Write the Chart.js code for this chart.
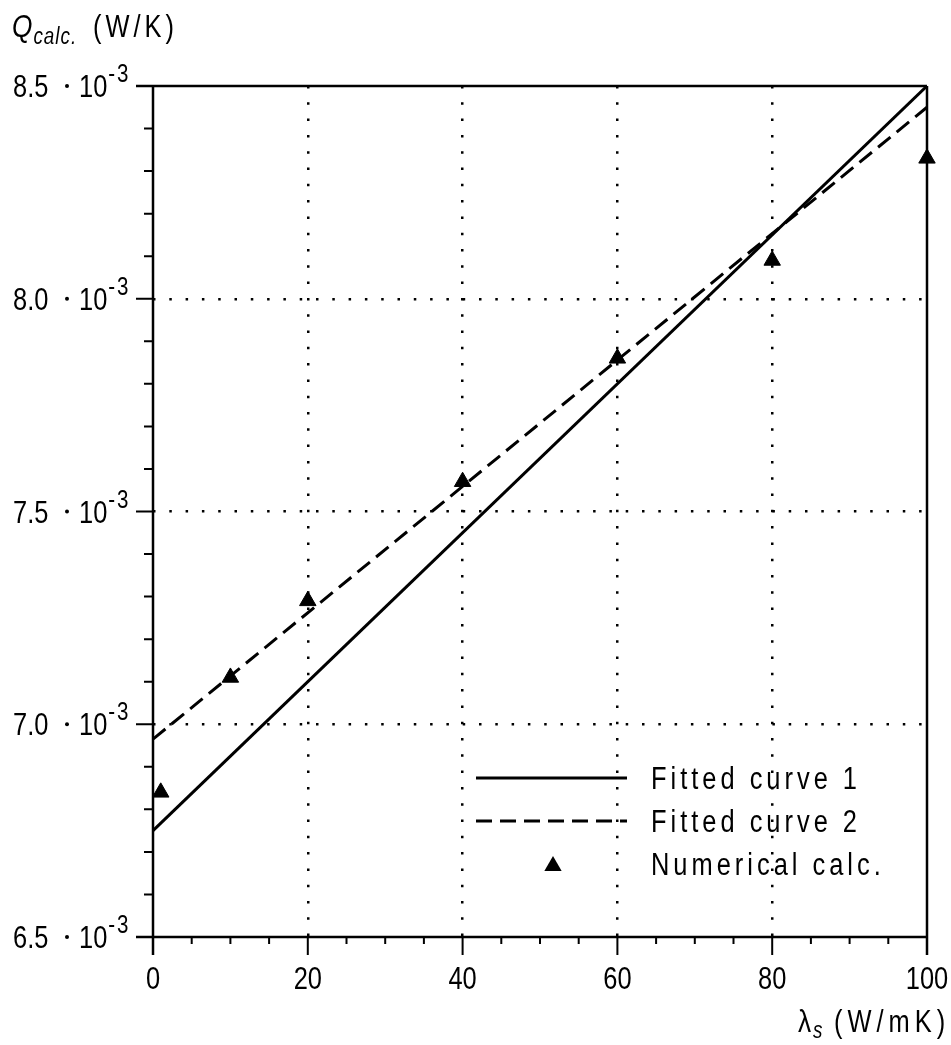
<!DOCTYPE html>
<html lang="en">
<head>
  <meta charset="UTF-8">
  <title>Q calc. vs lambda s</title>
  <script src="https://cdn.jsdelivr.net/npm/chart.js"></script>
  <style>
    body {
      margin: 0;
      padding: 0;
      background: #fff;
    }
    .wrap {
      width: 951px;
      height: 1045px;
      position: relative;
    }
  </style>
</head>
<body>
  <div class="wrap">
    <canvas id="chart"></canvas>
  </div>

  <script>
    // data (Q in W/K, lambda in W/mK)
    const lambdaFit = [0, 100];
    const fitCurve1 = [6.75e-3, 8.50e-3];
    const fitCurve2 = [6.965e-3, 8.45e-3];

    const lambdaCalc = [1, 10, 20, 40, 60, 80, 100];
    const qCalc = [6.84e-3, 7.11e-3, 7.29e-3, 7.57e-3, 7.86e-3, 8.09e-3, 8.33e-3];

    const xTicks = [0, 20, 40, 60, 80, 100];
    const yTicks = [6.5e-3, 7.0e-3, 7.5e-3, 8.0e-3, 8.5e-3];
    const legendLabels = ['Fitted curve 1', 'Fitted curve 2', 'Numerical calc.'];

    // no narrow font installed -> squeeze Liberation Sans horizontally
    const FONT = '"Liberation Sans", Arial, sans-serif';
    const SQUEEZE = 0.82;

    const toXY = (xs, ys) => xs.map((v, i) => ({ x: v, y: ys[i] }));
    const isEdge = (v, lo, hi) => Math.abs(v - lo) < 1e-9 || Math.abs(v - hi) < 1e-9;

    function setFont(ctx, size, opts) {
      ctx.font = (opts.italic ? 'italic ' : '') + size + 'px ' + FONT;
      ctx.letterSpacing = ((opts.spacing || 0) / SQUEEZE) + 'px';
    }

    function textWidth(ctx, str, size, opts = {}) {
      ctx.save();
      setFont(ctx, size, opts);
      const w = ctx.measureText(str).width * SQUEEZE;
      ctx.restore();
      return w;
    }

    // draws left-aligned text on a baseline, returns its width
    function text(ctx, str, x, y, size, opts = {}) {
      ctx.save();
      setFont(ctx, size, opts);
      ctx.textAlign = 'left';
      ctx.textBaseline = 'alphabetic';
      ctx.translate(x, y);
      ctx.scale(SQUEEZE, 1);
      ctx.fillText(str, 0, 0);
      const w = ctx.measureText(str).width * SQUEEZE;
      ctx.restore();
      return w;
    }

    function triangle(ctx, x, y, r) {
      ctx.beginPath();
      ctx.moveTo(x, y - r);
      ctx.lineTo(x + r * Math.sin(Math.PI * 2 / 3), y + r / 2);
      ctx.lineTo(x - r * Math.sin(Math.PI * 2 / 3), y + r / 2);
      ctx.closePath();
      ctx.fill();
    }

    const frame = {
      id: 'frame',
      beforeDatasetsDraw(chart) {
        const { ctx, chartArea: a, scales: { x, y } } = chart;
        ctx.save();
        ctx.strokeStyle = '#000';
        ctx.lineWidth = 2.5;
        ctx.beginPath();
        ctx.moveTo(a.left - 17, a.top); ctx.lineTo(a.right, a.top);
        ctx.moveTo(a.left - 17, a.bottom); ctx.lineTo(a.right, a.bottom);
        ctx.moveTo(a.left, a.top); ctx.lineTo(a.left, a.bottom + 18);
        ctx.moveTo(a.right, a.top); ctx.lineTo(a.right, a.bottom + 18);
        ctx.stroke();

        // major ticks
        ctx.lineWidth = 2;
        ctx.beginPath();
        xTicks.forEach(v => {
          const px = x.getPixelForValue(v);
          ctx.moveTo(px, a.bottom); ctx.lineTo(px, a.bottom + 18);
        });
        yTicks.forEach(v => {
          const py = y.getPixelForValue(v);
          ctx.moveTo(a.left - 17, py); ctx.lineTo(a.left, py);
        });
        // minor ticks every 5 and every 0.1e-3
        for (let v = x.min + 5; v < x.max; v += 5) {
          const px = x.getPixelForValue(v);
          ctx.moveTo(px, a.bottom); ctx.lineTo(px, a.bottom + 7);
        }
        for (let k = 1; k < 20; k++) {
          const py = y.getPixelForValue(y.min + k * 1e-4);
          ctx.moveTo(a.left - 9, py); ctx.lineTo(a.left, py);
        }
        ctx.stroke();
        ctx.restore();
      },
      afterDraw(chart) {
        const { ctx, chartArea: a, scales: { x, y } } = chart;
        const ds = chart.data.datasets;
        ctx.save();
        ctx.fillStyle = '#000';

        // x tick labels
        xTicks.forEach(v => {
          const px = x.getPixelForValue(v);
          const w = textWidth(ctx, String(v), 31);
          text(ctx, String(v), px - w / 2, a.bottom + 52, 31);
        });

        // y tick labels  "8.5 · 10^-3"
        yTicks.forEach(v => {
          const py = y.getPixelForValue(v);
          text(ctx, (v * 1000).toFixed(1), 13, py + 11, 31);
          ctx.beginPath();
          ctx.arc(67, py, 2, 0, Math.PI * 2);
          ctx.fill();
          const w = text(ctx, '10', 79, py + 11, 31);
          text(ctx, '-3', 79 + w + 1, py - 4, 25, { spacing: 2 });
        });

        // axis titles
        const wq = text(ctx, 'Q', 12, 37, 32, { italic: true });
        text(ctx, 'calc.', 12 + wq + 1, 44, 23, { italic: true, spacing: 1 });
        text(ctx, '(W/K)', 93, 37, 31, { spacing: 4 });

        const wl = text(ctx, 'λ', 798, 1032, 32);
        text(ctx, 's', 798 + wl + 2, 1038, 23, { italic: true });
        text(ctx, '(W/mK)', 834, 1032, 31, { spacing: 5 });

        // legend inside the plot
        const rows = [778, 821, 864];
        for (let i = 0; i < 2; i++) {
          ctx.strokeStyle = ds[i].borderColor;
          ctx.lineWidth = ds[i].borderWidth;
          ctx.setLineDash(ds[i].borderDash || []);
          ctx.beginPath();
          ctx.moveTo(476, rows[i]);
          ctx.lineTo(627, rows[i]);
          ctx.stroke();
        }
        ctx.setLineDash([]);
        triangle(ctx, 553, rows[2] + 2, ds[2].pointRadius + 0.5);
        legendLabels.forEach((lab, i) => text(ctx, lab, 651, rows[i] + 11, 31, { spacing: 4 }));
        ctx.restore();
      }
    };

    new Chart(document.getElementById('chart'), {
      type: 'scatter',
      data: {
        datasets: [
          {
            label: legendLabels[0],
            data: toXY(lambdaFit, fitCurve1),
            showLine: true,
            borderColor: '#000',
            borderWidth: 3,
            pointRadius: 0
          },
          {
            label: legendLabels[1],
            data: toXY(lambdaFit, fitCurve2),
            showLine: true,
            borderColor: '#000',
            borderWidth: 3,
            borderDash: [16, 8],
            pointRadius: 0
          },
          {
            label: legendLabels[2],
            data: toXY(lambdaCalc, qCalc),
            pointStyle: 'triangle',
            pointRadius: 9.5,
            backgroundColor: '#000',
            borderColor: '#000',
            borderWidth: 1,
            clip: false
          }
        ]
      },
      options: {
        responsive: true,
        maintainAspectRatio: false,
        animation: false,
        layout: { padding: { top: 86, right: 24, left: 0, bottom: 0 } },
        plugins: {
          legend: { display: false },
          tooltip: { enabled: false }
        },
        scales: {
          x: {
            type: 'linear',
            min: 0,
            max: 100,
            afterFit: s => { s.height = 108; s.paddingLeft = 0; s.paddingRight = 0; },
            ticks: { stepSize: 20, display: false },
            grid: {
              drawTicks: false,
              lineWidth: 2.5,
              color: c => isEdge(c.tick.value, 0, 100) ? 'rgba(0,0,0,0)' : '#000'
            },
            border: { display: false, dash: [2.5, 13.8] }
          },
          y: {
            type: 'linear',
            min: 6.5e-3,
            max: 8.5e-3,
            afterFit: s => { s.width = 153; s.paddingTop = 0; s.paddingBottom = 0; },
            ticks: { stepSize: 0.5e-3, display: false },
            grid: {
              drawTicks: false,
              lineWidth: 2.5,
              color: c => isEdge(c.tick.value, 6.5e-3, 8.5e-3) ? 'rgba(0,0,0,0)' : '#000'
            },
            border: { display: false, dash: [2.5, 13.8] }
          }
        }
      },
      plugins: [frame]
    });
  </script>
</body>
</html>
